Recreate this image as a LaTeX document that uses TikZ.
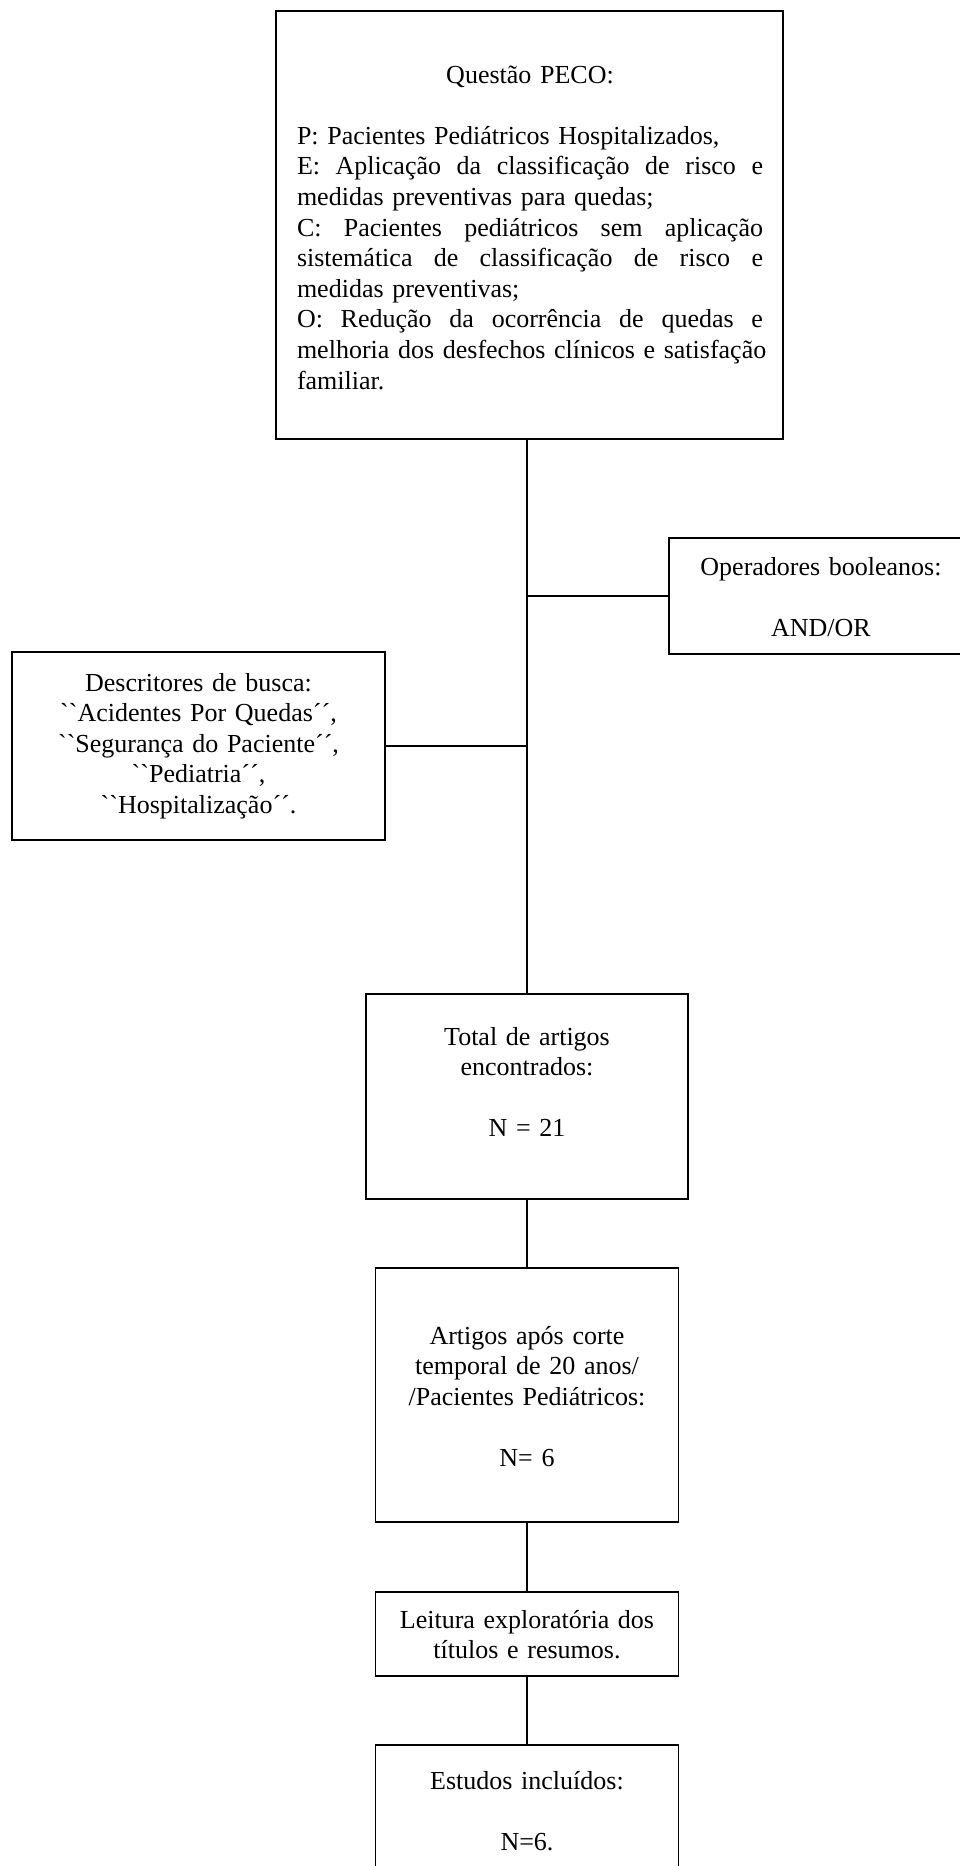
\documentclass[tikz,border=0pt]{standalone}
\usepackage{fontspec}
\setmainfont{Liberation Serif}[Ligatures=TeXOff]
\newcommand\jgap{\hfill\ }
\newcommand\jline[1]{\makebox[\linewidth][s]{#1}}
\begin{document}
\begin{tikzpicture}[x=1pt,y=-1pt,
  box/.style={draw=black, line width=1.7pt, inner sep=0pt, rectangle},
  conn/.style={draw=black, line width=1.6pt},
  txt/.style={anchor=base, inner sep=0pt, align=center, font=\fontsize{26}{30.6}\selectfont}]
\useasboundingbox (0,0) rectangle (960,1866);
\clip (0,0) rectangle (960,1866);
\fill[white] (0,0) rectangle (960,1866);

% boxes
\node[box, minimum width=507pt, minimum height=428.3pt] (peco) at (529.5,224.85) {};
\node[box, minimum width=304pt, minimum height=116pt] (op) at (821,596) {};
\node[box, minimum width=373pt, minimum height=188pt] (desc) at (198.5,746) {};
\node[box, minimum width=322pt, minimum height=205pt] (total) at (527,1096.5) {};
\node[box, minimum width=303pt, minimum height=254pt] (artigos) at (527,1395) {};
\node[box, minimum width=303pt, minimum height=84pt] (leitura) at (527,1634) {};
\node[box, minimum width=303pt, minimum height=155pt] (estudos) at (527,1822.5) {};

% texts
\node[txt, text width=466pt, align=left] (pecotext) at (530,83) {%
\makebox[\linewidth][c]{Questão PECO:}\\[30.6pt]
P: Pacientes Pediátricos Hospitalizados,\\
\jline{E:\jgap Aplicação\jgap da\jgap classificação\jgap de\jgap risco\jgap e}\\
medidas preventivas para quedas;\\
\jline{C:\jgap Pacientes\jgap pediátricos\jgap sem\jgap aplicação}\\
\jline{sistemática\jgap de\jgap classificação\jgap de\jgap risco\jgap e}\\
medidas preventivas;\\
\jline{O:\jgap Redução\jgap da\jgap ocorrência\jgap de\jgap quedas\jgap e}\\
\jline{melhoria\jgap dos\jgap desfechos\jgap clínicos\jgap e\jgap satisfação}\\
familiar.};

\node[txt, text width=290pt] (optext) at (821,575) {Operadores booleanos:\\[30.6pt]AND/OR};

\node[txt, text width=360pt] (desctext) at (198.5,691) {Descritores de busca:\\
``Acidentes Por Quedas´´,\\
``Segurança do Paciente´´,\\
``Pediatria´´,\\
``Hospitalização´´.};

\node[txt, text width=300pt] (totaltext) at (527,1045) {Total de artigos\\encontrados:\\[30.6pt]N = 21};

\node[txt, text width=290pt] (artigostext) at (527,1344) {Artigos após corte\\temporal de 20 anos/\\/Pacientes Pediátricos:\\[30.6pt]N= 6};

\node[txt, text width=290pt] (leituratext) at (527,1628) {Leitura exploratória dos\\títulos e resumos.};

\node[txt, text width=290pt] (estudostext) at (527,1789) {Estudos incluídos:\\[30.6pt]N=6.};

% connectors
\draw[conn] (total.north |- peco.south) -- (total.north);
\draw[conn] (op.west) -- (op.west -| total.north);
\draw[conn] (desc.east) -- (desc.east -| total.north);
\draw[conn] (total.south) -- (artigos.north);
\draw[conn] (artigos.south) -- (leitura.north);
\draw[conn] (leitura.south) -- (estudos.north);
\end{tikzpicture}
\end{document}
